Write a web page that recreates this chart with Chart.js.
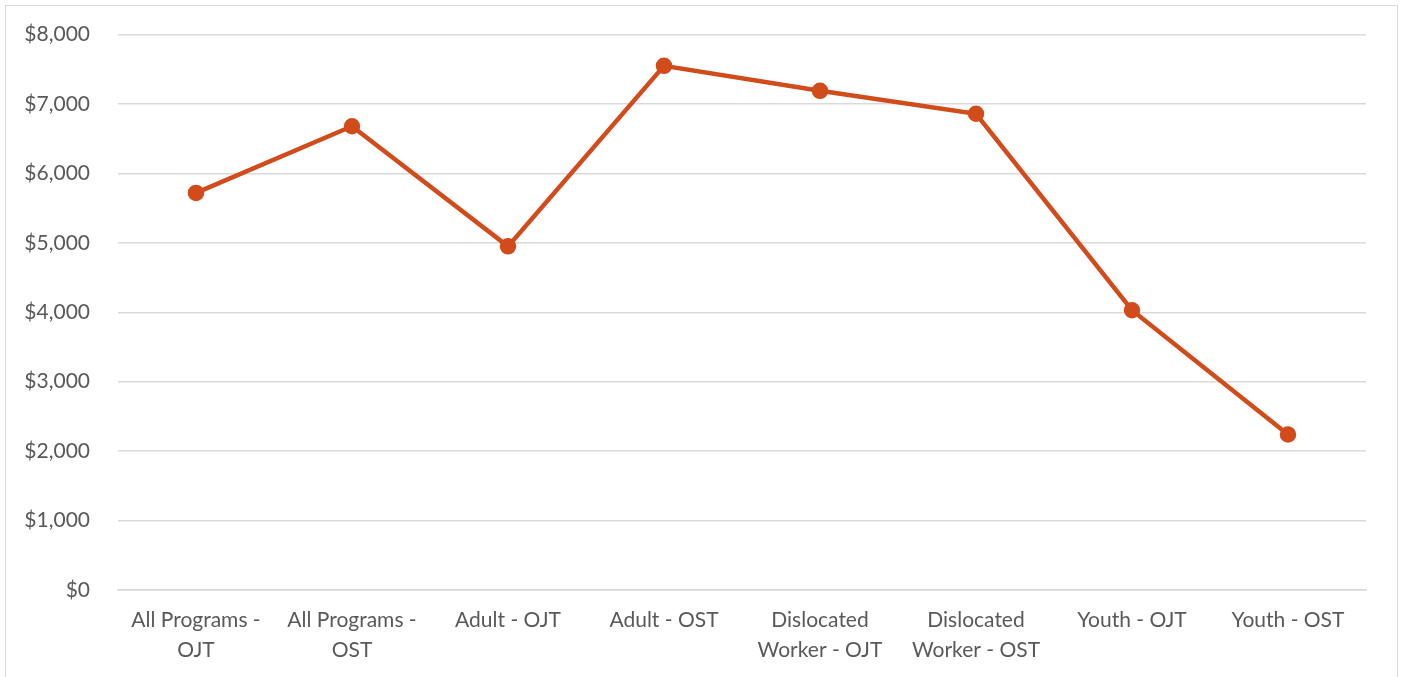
<!DOCTYPE html>
<html>
<head>
<meta charset="utf-8">
<script src="https://cdn.jsdelivr.net/npm/chart.js@4"></script>
<style>
  html, body { margin: 0; padding: 0; background: #fff; overflow: hidden; }
  #wrap { position: relative; width: 1403px; height: 677px; overflow: hidden; }
  #frame { position: absolute; left: 5px; top: 5px; width: 1391px; height: 700px; border: 1.5px solid #d9d9d9; }
  canvas { position: absolute; left: 0; top: -6px; }
</style>
</head>
<body>
<div id="wrap">
  <div id="frame"></div>
  <canvas id="costChart" width="1403" height="683"></canvas>
</div>
<script>
// --- data ---
const categories = [
    ['All Programs -', 'OJT'],
    ['All Programs -', 'OST'],
    'Adult - OJT',
    'Adult - OST',
    ['Dislocated', 'Worker - OJT'],
    ['Dislocated', 'Worker - OST'],
    'Youth - OJT',
    'Youth - OST'
];
const costValues = [5720, 6680, 4950, 7550, 7190, 6860, 4030, 2240];
const yTicks = [0, 1000, 2000, 3000, 4000, 5000, 6000, 7000, 8000];

const lineColor = '#D24B1A';
const textColor = '#595959';
const gridColor = '#d9d9d9';
const fontFamily = 'Lato, "Open Sans", sans-serif';

const pad = { left: 10, right: 37, top: 23, bottom: 10 };

const ctx = document.getElementById('costChart').getContext('2d');
new Chart(ctx, {
    type: 'line',
    data: {
        labels: categories,
        datasets: [{
            data: costValues,
            borderColor: lineColor,
            backgroundColor: lineColor,
            borderWidth: 4.5,
            pointRadius: 6,
            pointHoverRadius: 6,
            tension: 0,
            fill: false
        }]
    },
    options: {
        responsive: false,
        animation: false,
        layout: { padding: pad },
        plugins: {
            legend: { display: false },
            tooltip: { enabled: false }
        },
        scales: {
            x: {
                offset: true,
                grid: { display: false, drawTicks: false, offset: true },
                border: { color: gridColor, width: 1.5 },
                ticks: {
                    color: textColor,
                    font: { family: fontFamily, size: 21, lineHeight: 1.4 },
                    padding: 16,
                    maxRotation: 0,
                    autoSkip: false
                },
                // canvas is shifted up 6px, so axis line lands at y=590 on the page
                afterFit: function(scale) { scale.height = 683 - 596 - pad.bottom; }
            },
            y: {
                min: 0,
                max: 8000,
                afterBuildTicks: function(scale) {
                    scale.ticks = yTicks.map(v => ({ value: v }));
                },
                grid: { color: gridColor, lineWidth: 1.5, drawTicks: false },
                border: { display: false },
                ticks: {
                    color: textColor,
                    font: { family: fontFamily, size: 21 },
                    padding: 28,
                    callback: v => '$' + Number(v).toLocaleString('en-US')
                },
                afterFit: function(scale) { scale.width = 118 - pad.left; }
            }
        }
    }
});
</script>
</body>
</html>
